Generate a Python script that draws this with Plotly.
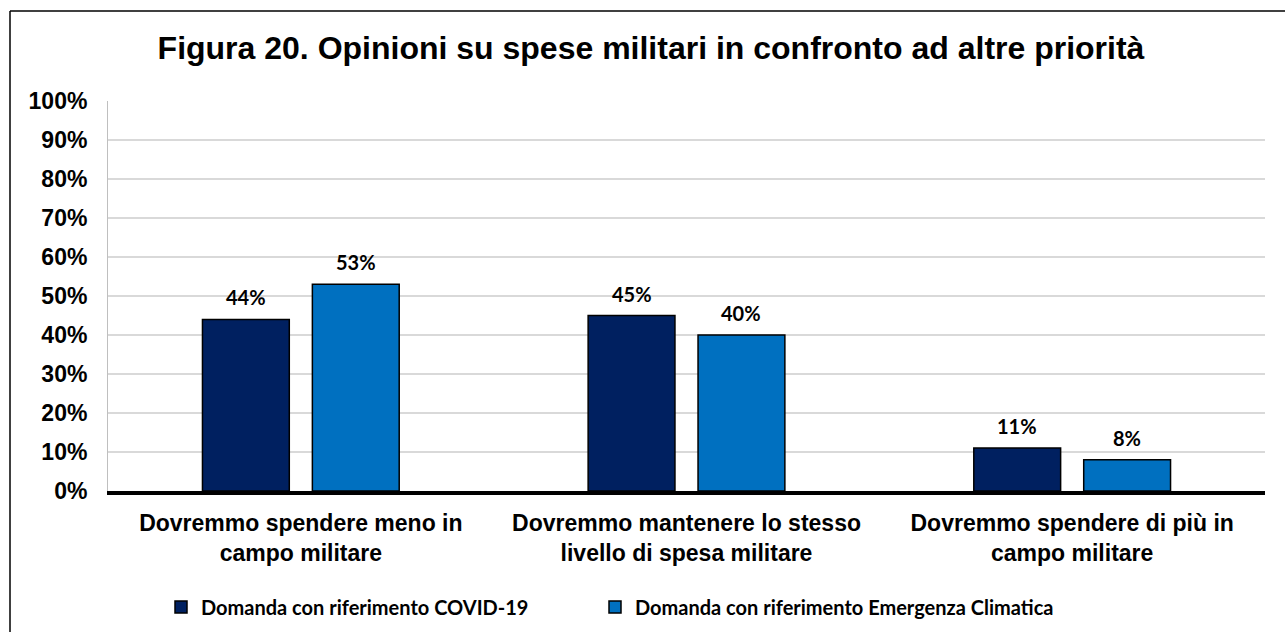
import plotly.graph_objects as go

# Survey answers about military spending versus other priorities
categories = [
    "Dovremmo spendere meno in<br>campo militare",
    "Dovremmo mantenere lo stesso<br>livello di spesa militare",
    "Dovremmo spendere di più in<br>campo militare",
]
covid_values = [44, 45, 11]
clima_values = [53, 40, 8]
series_names = [
    "Domanda con riferimento COVID-19",
    "Domanda con riferimento Emergenza Climatica",
]
y_ticks = list(range(0, 101, 10))

W, H = 1285, 632
ML, MR, MT, MB = 108, 20, 101, 141
plot_w = W - ML - MR
plot_h = H - MT - MB

ARIAL = "Arial, 'Liberation Sans', sans-serif"
HUMANIST = "Lato, 'Open Sans', sans-serif"
label_font = dict(family=HUMANIST, size=20, color="#000000")

fig = go.Figure()
fig.add_trace(go.Bar(
    x=categories, y=covid_values, name="<b>" + series_names[0] + "</b>",
    marker=dict(color="#002060", line=dict(color="#000000", width=1.5)),
    legend="legend",
))
fig.add_trace(go.Bar(
    x=categories, y=clima_values, name="<b>" + series_names[1] + "</b>",
    marker=dict(color="#0070C0", line=dict(color="#000000", width=1.5)),
    legend="legend2",
))

# value labels above each bar
BARGAP = 0.43
group_offset = plot_w / len(categories) * (1 - BARGAP) / 4
for vals, shift in ((covid_values, -group_offset), (clima_values, group_offset)):
    for cat, v in zip(categories, vals):
        fig.add_annotation(
            x=cat, y=v, text=f"<b>{v}%</b>", showarrow=False,
            xshift=shift, yshift=8, yanchor="bottom", font=label_font,
        )

# outer frame of the chart area (top and left edges)
fx0 = (10 - ML) / plot_w
fy0 = 1 + (MT - 11) / plot_h
fig.add_shape(type="line", xref="paper", yref="paper",
              x0=fx0, x1=2, y0=fy0, y1=fy0, line=dict(color="#000000", width=1.5))
fig.add_shape(type="line", xref="paper", yref="paper",
              x0=fx0, x1=fx0, y0=fy0, y1=-2, line=dict(color="#000000", width=1.5))

# legends sit in container coordinates so they don't resize the plot area
legend_common = dict(
    orientation="h", xanchor="left", xref="container",
    y=1 - 607 / H, yanchor="middle", yref="container",
    itemwidth=30, font=dict(family=HUMANIST, size=20, color="#000000"),
    bgcolor="rgba(0,0,0,0)",
)

fig.update_layout(
    width=W, height=H,
    margin=dict(l=ML, r=MR, t=MT, b=MB, autoexpand=False),
    paper_bgcolor="#ffffff", plot_bgcolor="#ffffff",
    barmode="group", bargap=BARGAP, bargroupgap=0.21,
    title=dict(
        text="<b>Figura 20. Opinioni su spese militari in confronto ad altre priorità</b>",
        x=651 / W, xref="container", xanchor="center",
        y=1 - 48 / H, yref="container", yanchor="middle",
        font=dict(family=ARIAL, size=32, color="#000000"),
    ),
    xaxis=dict(
        showline=True, linecolor="#000000", linewidth=4,
        showgrid=False, ticks="", ticklabelstandoff=8,
        tickfont=dict(family=ARIAL, size=23, color="#000000"),
        tickprefix="<b>", ticksuffix="</b>",
    ),
    yaxis=dict(
        range=[0, 100], tickvals=y_ticks, ticktext=[f"<b>{t}%</b>" for t in y_ticks],
        showline=True, linecolor="#bfbfbf", linewidth=1,
        showgrid=True, gridcolor="#d9d9d9", gridwidth=2,
        zeroline=False, ticks="", ticklabelstandoff=15,
        tickfont=dict(family=ARIAL, size=23, color="#000000"),
    ),
    legend=dict(x=161 / W, **legend_common),
    legend2=dict(x=595 / W, **legend_common),
    showlegend=True,
)

fig.write_html("out.html")
